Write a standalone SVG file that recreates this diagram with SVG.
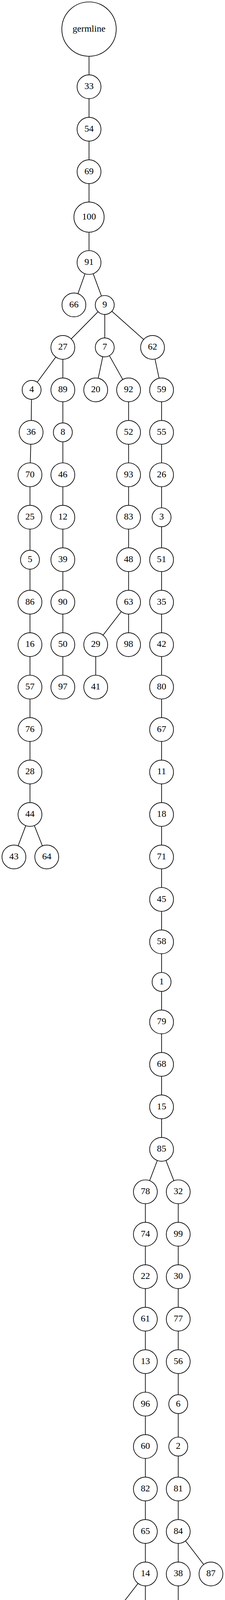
<svg xmlns="http://www.w3.org/2000/svg" width="575" height="5042" viewBox="0 0 575 5042">
<style>
.n circle{fill:#fff;stroke:#000;stroke-width:1.7}
.n text{font-family:"Liberation Serif","Times New Roman",serif;font-size:23.7px;text-anchor:middle;fill:#000}
#edges line{stroke:#000;stroke-width:1.7}
</style>
<rect width="575" height="5042" fill="#fff"/>
<g id="edges">
<line x1="227.5" y1="74.5" x2="227.5" y2="222.2"/>
<line x1="227.5" y1="222.2" x2="227.5" y2="330.9"/>
<line x1="227.5" y1="330.9" x2="227.5" y2="439.6"/>
<line x1="227.5" y1="439.6" x2="227.5" y2="555.8"/>
<line x1="227.5" y1="555.8" x2="227.5" y2="672"/>
<line x1="227.5" y1="672" x2="188.9" y2="780.7"/>
<line x1="227.5" y1="672" x2="267.7" y2="780.7"/>
<line x1="267.7" y1="780.7" x2="160.6" y2="889.4"/>
<line x1="267.7" y1="780.7" x2="267.7" y2="889.4"/>
<line x1="267.7" y1="780.7" x2="389.8" y2="889.4"/>
<line x1="160.6" y1="889.4" x2="80.8" y2="998.1"/>
<line x1="160.6" y1="889.4" x2="160.6" y2="998.1"/>
<line x1="267.7" y1="889.4" x2="244.6" y2="998.1"/>
<line x1="267.7" y1="889.4" x2="328.6" y2="998.1"/>
<line x1="389.8" y1="889.4" x2="412.9" y2="998.1"/>
<line x1="80.8" y1="998.1" x2="79.5" y2="1106.8"/>
<line x1="79.5" y1="1106.8" x2="76.6" y2="1215.5"/>
<line x1="76.6" y1="1215.5" x2="76.6" y2="2085.1"/>
<line x1="76.6" y1="2085.1" x2="35.6" y2="2193.8"/>
<line x1="76.6" y1="2085.1" x2="119.5" y2="2193.8"/>
<line x1="160.6" y1="998.1" x2="160.6" y2="1759"/>
<line x1="328.6" y1="998.1" x2="328.6" y2="1650.3"/>
<line x1="328.6" y1="1541.6" x2="244.6" y2="1650.3"/>
<line x1="244.6" y1="1650.3" x2="244.6" y2="1759"/>
<line x1="412.9" y1="998.1" x2="412.9" y2="2942.3"/>
<line x1="412.9" y1="2942.3" x2="371.5" y2="3051"/>
<line x1="412.9" y1="2942.3" x2="455.5" y2="3051"/>
<line x1="371.5" y1="3051" x2="371.5" y2="4572.8"/>
<line x1="371.5" y1="4029.3" x2="287.5" y2="4138"/>
<line x1="287.5" y1="4138" x2="287.5" y2="4464.1"/>
<line x1="371.5" y1="4464.1" x2="287.5" y2="4572.8"/>
<line x1="287.5" y1="4572.8" x2="287.5" y2="5007"/>
<line x1="455.5" y1="3051" x2="455.5" y2="4572.8"/>
<line x1="455.5" y1="3920.6" x2="539.1" y2="4029.3"/>
</g>
<g id="n_germline" class="n"><circle cx="227.5" cy="74.5" r="69.5"/><text x="227.5" y="80.5">germline</text></g>
<g id="n33" class="n"><circle cx="227.5" cy="222.2" r="30.5"/><text x="227.5" y="228.2">33</text></g>
<g id="n54" class="n"><circle cx="227.5" cy="330.9" r="30.5"/><text x="227.5" y="336.9">54</text></g>
<g id="n69" class="n"><circle cx="227.5" cy="439.6" r="30.5"/><text x="227.5" y="445.6">69</text></g>
<g id="n100" class="n"><circle cx="227.5" cy="555.8" r="38.7"/><text x="227.5" y="561.6">100</text></g>
<g id="n91" class="n"><circle cx="227.5" cy="672" r="30.5"/><text x="227.5" y="678">91</text></g>
<g id="n66" class="n"><circle cx="188.9" cy="780.7" r="30.5"/><text x="188.9" y="786.7">66</text></g>
<g id="n9" class="n"><circle cx="267.7" cy="780.7" r="24.2"/><text x="267.7" y="786.7">9</text></g>
<g id="n27" class="n"><circle cx="160.6" cy="889.4" r="30.5"/><text x="160.6" y="895.4">27</text></g>
<g id="n7" class="n"><circle cx="267.7" cy="889.4" r="24.2"/><text x="267.7" y="895.4">7</text></g>
<g id="n62" class="n"><circle cx="389.8" cy="889.4" r="30.5"/><text x="389.8" y="895.4">62</text></g>
<g id="n4" class="n"><circle cx="80.8" cy="998.1" r="24.2"/><text x="80.8" y="1004.1">4</text></g>
<g id="n89" class="n"><circle cx="160.6" cy="998.1" r="30.5"/><text x="160.6" y="1004.1">89</text></g>
<g id="n20" class="n"><circle cx="244.6" cy="998.1" r="30.5"/><text x="244.6" y="1004.1">20</text></g>
<g id="n92" class="n"><circle cx="328.6" cy="998.1" r="30.5"/><text x="328.6" y="1004.1">92</text></g>
<g id="n59" class="n"><circle cx="412.9" cy="998.1" r="30.5"/><text x="412.9" y="1004.1">59</text></g>
<g id="n36" class="n"><circle cx="79.5" cy="1106.8" r="30.5"/><text x="79.5" y="1112.8">36</text></g>
<g id="n8" class="n"><circle cx="160.6" cy="1106.8" r="24.2"/><text x="160.6" y="1112.8">8</text></g>
<g id="n52" class="n"><circle cx="328.6" cy="1106.8" r="30.5"/><text x="328.6" y="1112.8">52</text></g>
<g id="n55" class="n"><circle cx="412.9" cy="1106.8" r="30.5"/><text x="412.9" y="1112.8">55</text></g>
<g id="n70" class="n"><circle cx="76.6" cy="1215.5" r="30.5"/><text x="76.6" y="1221.5">70</text></g>
<g id="n46" class="n"><circle cx="160.6" cy="1215.5" r="30.5"/><text x="160.6" y="1221.5">46</text></g>
<g id="n93" class="n"><circle cx="328.6" cy="1215.5" r="30.5"/><text x="328.6" y="1221.5">93</text></g>
<g id="n26" class="n"><circle cx="412.9" cy="1215.5" r="30.5"/><text x="412.9" y="1221.5">26</text></g>
<g id="n25" class="n"><circle cx="76.6" cy="1324.2" r="30.5"/><text x="76.6" y="1330.2">25</text></g>
<g id="n12" class="n"><circle cx="160.6" cy="1324.2" r="30.5"/><text x="160.6" y="1330.2">12</text></g>
<g id="n83" class="n"><circle cx="328.6" cy="1324.2" r="30.5"/><text x="328.6" y="1330.2">83</text></g>
<g id="n3" class="n"><circle cx="412.9" cy="1324.2" r="24.2"/><text x="412.9" y="1330.2">3</text></g>
<g id="n5" class="n"><circle cx="76.6" cy="1432.9" r="24.2"/><text x="76.6" y="1438.9">5</text></g>
<g id="n39" class="n"><circle cx="160.6" cy="1432.9" r="30.5"/><text x="160.6" y="1438.9">39</text></g>
<g id="n48" class="n"><circle cx="328.6" cy="1432.9" r="30.5"/><text x="328.6" y="1438.9">48</text></g>
<g id="n51" class="n"><circle cx="412.9" cy="1432.9" r="30.5"/><text x="412.9" y="1438.9">51</text></g>
<g id="n86" class="n"><circle cx="76.6" cy="1541.6" r="30.5"/><text x="76.6" y="1547.6">86</text></g>
<g id="n90" class="n"><circle cx="160.6" cy="1541.6" r="30.5"/><text x="160.6" y="1547.6">90</text></g>
<g id="n63" class="n"><circle cx="328.6" cy="1541.6" r="30.5"/><text x="328.6" y="1547.6">63</text></g>
<g id="n35" class="n"><circle cx="412.9" cy="1541.6" r="30.5"/><text x="412.9" y="1547.6">35</text></g>
<g id="n16" class="n"><circle cx="76.6" cy="1650.3" r="30.5"/><text x="76.6" y="1656.3">16</text></g>
<g id="n50" class="n"><circle cx="160.6" cy="1650.3" r="30.5"/><text x="160.6" y="1656.3">50</text></g>
<g id="n29" class="n"><circle cx="244.6" cy="1650.3" r="30.5"/><text x="244.6" y="1656.3">29</text></g>
<g id="n98" class="n"><circle cx="328.6" cy="1650.3" r="30.5"/><text x="328.6" y="1656.3">98</text></g>
<g id="n42" class="n"><circle cx="412.9" cy="1650.3" r="30.5"/><text x="412.9" y="1656.3">42</text></g>
<g id="n57" class="n"><circle cx="76.6" cy="1759" r="30.5"/><text x="76.6" y="1765">57</text></g>
<g id="n97" class="n"><circle cx="160.6" cy="1759" r="30.5"/><text x="160.6" y="1765">97</text></g>
<g id="n41" class="n"><circle cx="244.6" cy="1759" r="30.5"/><text x="244.6" y="1765">41</text></g>
<g id="n80" class="n"><circle cx="412.9" cy="1759" r="30.5"/><text x="412.9" y="1765">80</text></g>
<g id="n76" class="n"><circle cx="76.6" cy="1867.7" r="30.5"/><text x="76.6" y="1873.7">76</text></g>
<g id="n67" class="n"><circle cx="412.9" cy="1867.7" r="30.5"/><text x="412.9" y="1873.7">67</text></g>
<g id="n28" class="n"><circle cx="76.6" cy="1976.4" r="30.5"/><text x="76.6" y="1982.4">28</text></g>
<g id="n11" class="n"><circle cx="412.9" cy="1976.4" r="30.5"/><text x="412.9" y="1982.4">11</text></g>
<g id="n44" class="n"><circle cx="76.6" cy="2085.1" r="30.5"/><text x="76.6" y="2091.1">44</text></g>
<g id="n18" class="n"><circle cx="412.9" cy="2085.1" r="30.5"/><text x="412.9" y="2091.1">18</text></g>
<g id="n43" class="n"><circle cx="35.6" cy="2193.8" r="30.5"/><text x="35.6" y="2199.8">43</text></g>
<g id="n64" class="n"><circle cx="119.5" cy="2193.8" r="30.5"/><text x="119.5" y="2199.8">64</text></g>
<g id="n71" class="n"><circle cx="412.9" cy="2193.8" r="30.5"/><text x="412.9" y="2199.8">71</text></g>
<g id="n45" class="n"><circle cx="412.9" cy="2302.5" r="30.5"/><text x="412.9" y="2308.5">45</text></g>
<g id="n58" class="n"><circle cx="412.9" cy="2411.2" r="30.5"/><text x="412.9" y="2417.2">58</text></g>
<g id="n1" class="n"><circle cx="412.9" cy="2513.7" r="24.2"/><text x="412.9" y="2519.7">1</text></g>
<g id="n79" class="n"><circle cx="412.9" cy="2616.2" r="30.5"/><text x="412.9" y="2622.2">79</text></g>
<g id="n68" class="n"><circle cx="412.9" cy="2724.9" r="30.5"/><text x="412.9" y="2730.9">68</text></g>
<g id="n15" class="n"><circle cx="412.9" cy="2833.6" r="30.5"/><text x="412.9" y="2839.6">15</text></g>
<g id="n85" class="n"><circle cx="412.9" cy="2942.3" r="30.5"/><text x="412.9" y="2948.3">85</text></g>
<g id="n78" class="n"><circle cx="371.5" cy="3051" r="30.5"/><text x="371.5" y="3057">78</text></g>
<g id="n32" class="n"><circle cx="455.5" cy="3051" r="30.5"/><text x="455.5" y="3057">32</text></g>
<g id="n74" class="n"><circle cx="371.5" cy="3159.7" r="30.5"/><text x="371.5" y="3165.7">74</text></g>
<g id="n99" class="n"><circle cx="455.5" cy="3159.7" r="30.5"/><text x="455.5" y="3165.7">99</text></g>
<g id="n22" class="n"><circle cx="371.5" cy="3268.4" r="30.5"/><text x="371.5" y="3274.4">22</text></g>
<g id="n30" class="n"><circle cx="455.5" cy="3268.4" r="30.5"/><text x="455.5" y="3274.4">30</text></g>
<g id="n61" class="n"><circle cx="371.5" cy="3377.1" r="30.5"/><text x="371.5" y="3383.1">61</text></g>
<g id="n77" class="n"><circle cx="455.5" cy="3377.1" r="30.5"/><text x="455.5" y="3383.1">77</text></g>
<g id="n13" class="n"><circle cx="371.5" cy="3485.8" r="30.5"/><text x="371.5" y="3491.8">13</text></g>
<g id="n56" class="n"><circle cx="455.5" cy="3485.8" r="30.5"/><text x="455.5" y="3491.8">56</text></g>
<g id="n96" class="n"><circle cx="371.5" cy="3594.5" r="30.5"/><text x="371.5" y="3600.5">96</text></g>
<g id="n6" class="n"><circle cx="455.5" cy="3594.5" r="24.2"/><text x="455.5" y="3600.5">6</text></g>
<g id="n60" class="n"><circle cx="371.5" cy="3703.2" r="30.5"/><text x="371.5" y="3709.2">60</text></g>
<g id="n2" class="n"><circle cx="455.5" cy="3703.2" r="24.2"/><text x="455.5" y="3709.2">2</text></g>
<g id="n82" class="n"><circle cx="371.5" cy="3811.9" r="30.5"/><text x="371.5" y="3817.9">82</text></g>
<g id="n81" class="n"><circle cx="455.5" cy="3811.9" r="30.5"/><text x="455.5" y="3817.9">81</text></g>
<g id="n65" class="n"><circle cx="371.5" cy="3920.6" r="30.5"/><text x="371.5" y="3926.6">65</text></g>
<g id="n84" class="n"><circle cx="455.5" cy="3920.6" r="30.5"/><text x="455.5" y="3926.6">84</text></g>
<g id="n14" class="n"><circle cx="371.5" cy="4029.3" r="30.5"/><text x="371.5" y="4035.3">14</text></g>
<g id="n38" class="n"><circle cx="455.5" cy="4029.3" r="30.5"/><text x="455.5" y="4035.3">38</text></g>
<g id="n87" class="n"><circle cx="539.1" cy="4029.3" r="30.5"/><text x="539.1" y="4035.3">87</text></g>
<g id="n19" class="n"><circle cx="287.5" cy="4138" r="30.5"/><text x="287.5" y="4144">19</text></g>
<g id="n73" class="n"><circle cx="371.5" cy="4138" r="30.5"/><text x="371.5" y="4144">73</text></g>
<g id="n75" class="n"><circle cx="455.5" cy="4138" r="30.5"/><text x="455.5" y="4144">75</text></g>
<g id="n53" class="n"><circle cx="287.5" cy="4246.7" r="30.5"/><text x="287.5" y="4252.7">53</text></g>
<g id="n88" class="n"><circle cx="371.5" cy="4246.7" r="30.5"/><text x="371.5" y="4252.7">88</text></g>
<g id="n23" class="n"><circle cx="455.5" cy="4246.7" r="30.5"/><text x="455.5" y="4252.7">23</text></g>
<g id="n24" class="n"><circle cx="287.5" cy="4355.4" r="30.5"/><text x="287.5" y="4361.4">24</text></g>
<g id="n40" class="n"><circle cx="371.5" cy="4355.4" r="30.5"/><text x="371.5" y="4361.4">40</text></g>
<g id="n47" class="n"><circle cx="455.5" cy="4355.4" r="30.5"/><text x="455.5" y="4361.4">47</text></g>
<g id="n10" class="n"><circle cx="287.5" cy="4464.1" r="30.5"/><text x="287.5" y="4470.1">10</text></g>
<g id="n72" class="n"><circle cx="371.5" cy="4464.1" r="30.5"/><text x="371.5" y="4470.1">72</text></g>
<g id="n95" class="n"><circle cx="455.5" cy="4464.1" r="30.5"/><text x="455.5" y="4470.1">95</text></g>
<g id="n34" class="n"><circle cx="287.5" cy="4572.8" r="30.5"/><text x="287.5" y="4578.8">34</text></g>
<g id="n49" class="n"><circle cx="371.5" cy="4572.8" r="30.5"/><text x="371.5" y="4578.8">49</text></g>
<g id="n21" class="n"><circle cx="455.5" cy="4572.8" r="30.5"/><text x="455.5" y="4578.8">21</text></g>
<g id="n31" class="n"><circle cx="287.5" cy="4681.4" r="30.5"/><text x="287.5" y="4687.4">31</text></g>
<g id="n94" class="n"><circle cx="287.5" cy="4790" r="30.5"/><text x="287.5" y="4796">94</text></g>
<g id="n17" class="n"><circle cx="287.5" cy="4898.4" r="30.5"/><text x="287.5" y="4904.4">17</text></g>
<g id="n37" class="n"><circle cx="287.5" cy="5006.8" r="30.5"/><text x="287.5" y="5012.8">37</text></g>
</svg>
